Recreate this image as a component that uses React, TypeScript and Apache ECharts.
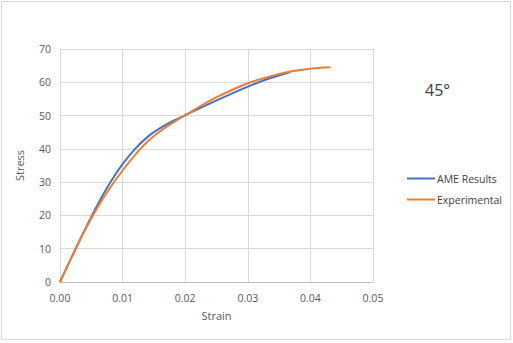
import React, { useEffect, useRef } from "react";
import * as echarts from "echarts";

const ameStrain = [0, 0.002, 0.004, 0.006, 0.008, 0.010, 0.012, 0.014, 0.016, 0.018, 0.020, 0.0245, 0.030, 0.0335, 0.0368];
const ameStress = [0, 8, 15.8, 23.2, 29.8, 35.4, 40, 43.6, 46.2, 48.3, 50.1, 54.1, 58.7, 61.2, 63.1];

const expStrain = [0, 0.002, 0.004, 0.006, 0.008, 0.010, 0.012, 0.014, 0.016, 0.018, 0.020, 0.0245, 0.030, 0.034, 0.037, 0.040, 0.0432];
const expStress = [0, 8, 15.6, 22.4, 28.3, 33.5, 38.2, 42.2, 45.3, 47.8, 50.1, 55.0, 59.7, 62.0, 63.3, 64.1, 64.5];

const seriesNames = ["AME Results", "Experimental"];
const chartTitle = "45°";

export default function App() {
  const ref = useRef<HTMLDivElement>(null);
  useEffect(() => {
    document.body.style.margin = "0";
    const chart = echarts.init(ref.current!, null, { renderer: "svg" });
    const font = "'Open Sans', 'Liberation Sans', sans-serif";
    chart.setOption({
      animation: false,
      backgroundColor: "#ffffff",
      textStyle: { fontFamily: font },
      graphic: [
        {
          type: "rect",
          shape: { x: 1.5, y: 1.5, width: 509, height: 338 },
          style: { fill: "none", stroke: "#d9d9d9", lineWidth: 1 },
        },
        {
          type: "text",
          left: 425,
          top: 82,
          style: { text: chartTitle, fontSize: 16, fill: "#404040", fontFamily: font },
        },
      ],
      legend: {
        orient: "vertical",
        left: 402,
        top: 168,
        itemWidth: 28,
        itemHeight: 2,
        itemGap: 10,
        icon: "rect",
        textStyle: { fontSize: 10.5, color: "#404040", fontFamily: font, padding: [0, 0, 0, -3] },
        data: seriesNames,
      },
      grid: { left: 60, right: 140, top: 49, bottom: 61, containLabel: false },
      xAxis: {
        type: "value",
        min: 0,
        max: 0.05,
        interval: 0.01,
        name: "Strain",
        nameLocation: "middle",
        nameGap: 28,
        nameTextStyle: { fontSize: 11, color: "#595959", fontFamily: font },
        axisLine: { lineStyle: { color: "#bfbfbf" } },
        axisTick: { show: false },
        axisLabel: { fontSize: 10.5, color: "#595959", margin: 10, formatter: (v: number) => v.toFixed(2) },
        splitLine: { show: true, lineStyle: { color: "#d9d9d9" } },
      },
      yAxis: {
        type: "value",
        min: 0,
        max: 70,
        interval: 10,
        name: "Stress",
        nameLocation: "middle",
        nameGap: 35,
        nameTextStyle: { fontSize: 11, color: "#595959", fontFamily: font },
        axisLine: { show: false },
        axisTick: { show: false },
        axisLabel: { fontSize: 10.5, color: "#595959", margin: 9 },
        splitLine: { show: true, lineStyle: { color: "#d9d9d9" } },
      },
      series: [
        {
          name: seriesNames[0],
          type: "line",
          data: ameStrain.map((x, i) => [x, ameStress[i]]),
          showSymbol: false,
          smooth: 0.3,
          lineStyle: { color: "#4472C4", width: 2 },
          itemStyle: { color: "#4472C4" },
        },
        {
          name: seriesNames[1],
          type: "line",
          data: expStrain.map((x, i) => [x, expStress[i]]),
          showSymbol: false,
          smooth: 0.3,
          lineStyle: { color: "#ED7D31", width: 2 },
          itemStyle: { color: "#ED7D31" },
        },
      ],
    });
    return () => chart.dispose();
  }, []);
  return <div ref={ref} style={{ width: 513, height: 343 }} />;
}
